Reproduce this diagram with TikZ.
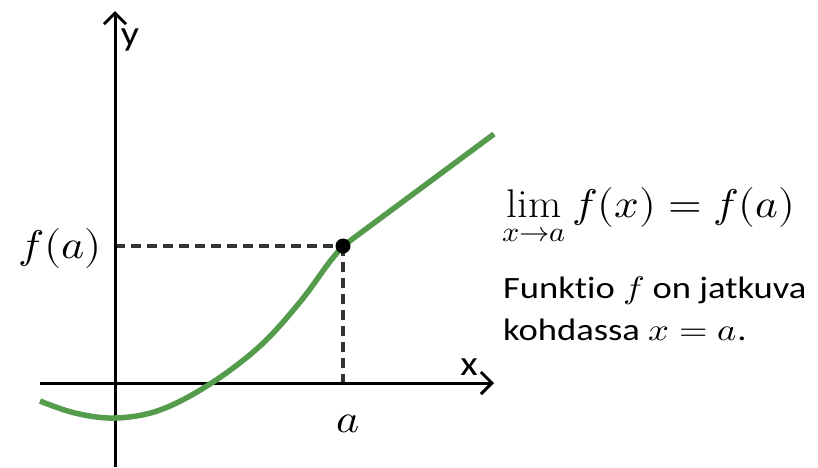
\documentclass[tikz,border=0pt]{standalone}
\usepackage{graphicx}
\usepackage{unicode-math}
\setmainfont{Carlito}[Ligatures={NoCommon}]
\setmathfont{Latin Modern Math}
\setmathrm{Latin Modern Roman}
\usetikzlibrary{arrows.meta}
\definecolor{curvegreen}{HTML}{559B4C}
\definecolor{dashgray}{HTML}{333333}
\newcommand{\wide}[2]{\scalebox{#1}[1]{#2}}
\tikzset{
  axis/.style={line width=3pt, -{Straight Barb[length=11pt,width=22pt,line width=3pt]}},
  guide/.style={line width=3.2pt, dashgray, dash pattern=on 10pt off 6pt},
  graph/.style={line width=5.5pt, curvegreen, line join=round},
  lbl/.style={inner sep=0pt, font=\fontsize{31}{37}\selectfont},
  axlbl/.style={inner sep=0pt, font=\fontsize{35}{42}\selectfont},
  biglbl/.style={inner sep=0pt, font=\fontsize{40}{48}\selectfont},
}
\begin{document}
\begin{tikzpicture}[x=1pt,y=-1pt]
\useasboundingbox (0,0) rectangle (818,467);
% named points
\coordinate (xs) at (40,383);
\coordinate (xe) at (494,383);
\coordinate (ys) at (115,467);
\coordinate (ye) at (115,11);
\coordinate (P) at (343,246);
\coordinate (Py) at (115,246);
\coordinate (Px) at (343,383);
\coordinate (E) at (494,134);
% guides
\draw[guide] (Py) -- (P);
\draw[guide] (P) -- (Px);
% axes
\draw[axis] (xs) -- (xe);
\draw[axis] (ys) -- (ye);
% curve
\draw[graph] plot[smooth, tension=0.6] coordinates {(40,401) (75,413) (115,418) (160,410) (210,384) (260,346) (300,302) (328,264) (343,246)} -- (E);
% point
\fill (P) circle (7.5pt);
% labels
\node[axlbl, anchor=base] (ylab) at (130,45) {\wide{1.15}{y}};
\node[axlbl, anchor=base] (xlab) at (469,375) {\wide{1.15}{x}};
\node[biglbl, anchor=base] (alab) at (348,432) {\wide{1.1}{$a$}};
\node[biglbl, anchor=base east] (falab) at (102,258) {\wide{1.1}{$f(a)$}};
\node[biglbl, anchor=base west] (lim) at (502,217) {\wide{1.08}{$\displaystyle\lim_{x\to a} f(x)=f(a)$}};
\node[lbl, anchor=base west] (t1) at (503,298) {\wide{1.18}{Funktio $f$ on jatkuva}};
\node[lbl, anchor=base west] (t2) at (503,340) {\wide{1.18}{kohdassa $x=a$.}};
\end{tikzpicture}
\end{document}
